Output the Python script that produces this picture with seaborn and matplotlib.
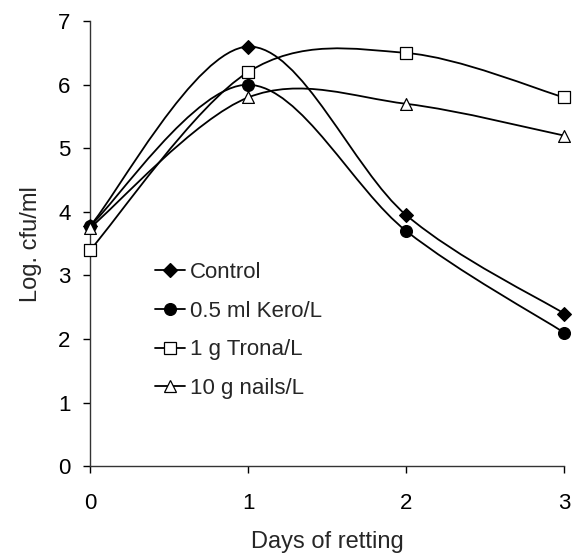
import numpy as np
import pandas as pd
import matplotlib
matplotlib.use("Agg")
import matplotlib.pyplot as plt
import seaborn as sns
from matplotlib.path import Path
from matplotlib.patches import PathPatch
from matplotlib.lines import Line2D

days = [0, 1, 2, 3]
control = [3.78, 6.6, 3.95, 2.4]
kero = [3.78, 6.0, 3.7, 2.1]
trona = [3.4, 6.2, 6.5, 5.8]
nails = [3.75, 5.8, 5.7, 5.2]
labels = ["Control", "0.5 ml Kero/L", "1 g Trona/L", "10 g nails/L"]

sns.set_style("ticks")
plt.rcParams['font.family'] = ['Liberation Sans', 'DejaVu Sans']

fig = plt.figure(figsize=(5.74, 5.57), dpi=100)
ax = fig.add_axes([0.157, 0.163, 0.826, 0.799])

series = [control, kero, trona, nails]
styles = [
    dict(marker="D", ms=7, mfc="black", mec="black"),
    dict(marker="o", ms=8.5, mfc="black", mec="black"),
    dict(marker="s", ms=8, mfc="white", mec="black"),
    dict(marker="^", ms=8.5, mfc="white", mec="black"),
]


def smooth_path(xs, ys):
    # Excel-like smoothed line: Catmull-Rom converted to cubic Bezier
    pts = np.column_stack([xs, ys]).astype(float)
    n = len(pts)
    verts = [pts[0]]
    codes = [Path.MOVETO]
    for i in range(n - 1):
        p0 = pts[max(i - 1, 0)]
        p1 = pts[i]
        p2 = pts[i + 1]
        p3 = pts[min(i + 2, n - 1)]
        c1 = p1 + (p2 - p0) / 6.0
        c2 = p2 - (p3 - p1) / 6.0
        verts += [c1, c2, p2]
        codes += [Path.CURVE4] * 3
    return Path(verts, codes)


handles = []
for vals, st, lab in zip(series, styles, labels):
    ax.add_patch(PathPatch(smooth_path(days, vals), fill=False, lw=1.3,
                           edgecolor="black", zorder=2))
    df = pd.DataFrame({"day": days, "val": vals})
    sns.scatterplot(data=df, x="day", y="val", ax=ax, marker=st["marker"],
                    s=st["ms"] ** 2, color=st["mfc"], edgecolor=st["mec"],
                    linewidth=0.9, zorder=3, legend=False, clip_on=False)
    handles.append(Line2D([], [], color="black", lw=1.3, label=lab,
                          markeredgewidth=0.9, **st))

ax.set_xlim(0, 3)
ax.set_ylim(0, 7)
ax.set_xticks(days)
ax.set_yticks(range(0, 8))
ax.tick_params(labelsize=16, direction="out", length=5, width=1, colors="black")
ax.tick_params(axis="x", pad=14)
ax.tick_params(axis="y", pad=9)
ax.set_xlabel("Days of retting", fontsize=17, labelpad=12.5)
ax.set_ylabel("Log. cfu/ml", fontsize=17, labelpad=12)
for sp in ["left", "bottom"]:
    ax.spines[sp].set_color("#333333")
    ax.spines[sp].set_linewidth(1)

ax.legend(handles=handles, loc="upper left", bbox_to_anchor=(0.137, 0.459),
          frameon=False, fontsize=16, handlelength=1.35, handletextpad=0.23,
          labelspacing=0.8, borderaxespad=0, borderpad=0)

sns.despine(ax=ax)
fig.savefig("out.png", dpi=100)
